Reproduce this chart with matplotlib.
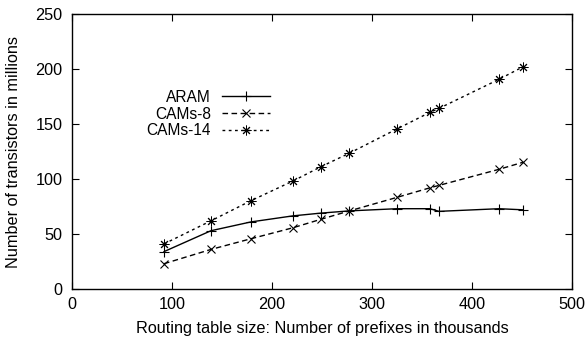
import numpy as np
import matplotlib.pyplot as plt

plt.rcParams['font.family'] = ['Liberation Sans', 'DejaVu Sans']
plt.rcParams['font.size'] = 11.7

# routing table size (thousands of prefixes)
prefixes = [92, 139, 179, 221, 249, 277, 325, 358, 367, 427, 451]

# transistors in millions
aram = [34, 53, 61, 66.5, 69, 71, 73, 73, 70.6, 73, 72]
cams8 = [23, 36, 45.7, 55.7, 63.4, 70.9, 83.3, 92, 94.2, 108.8, 115.2]
cams14 = [41, 62, 80.3, 98.2, 111.2, 123.3, 145.5, 160.6, 164.2, 190.6, 202]

fig = plt.figure(figsize=(5.87, 3.43), dpi=100)
ax = fig.add_axes([0.1227, 0.1574, 0.8517, 0.8018])

ax.plot(prefixes, aram, '-', color='black', lw=1, marker='+', ms=7, mew=0.8, label='ARAM')
ax.plot(prefixes, cams8, color='black', lw=1, ls=(0, (4, 2.5)), marker='x', ms=6, mew=0.8, label='CAMs-8')
ax.plot(prefixes, cams14, color='black', lw=1, ls=(0, (2, 2.5)), marker=(8, 2, 0), ms=7, mew=0.7, label='CAMs-14')

ax.set_xlim(0, 500)
ax.set_ylim(0, 250)
ax.set_xticks(np.arange(0, 501, 100))
ax.set_yticks(np.arange(0, 251, 50))
ax.tick_params(direction='in', length=5, top=True, right=True, width=0.8)
ax.tick_params(axis='x', pad=6)
ax.tick_params(axis='y', pad=7)
for s in ax.spines.values():
    s.set_linewidth(1)

ax.set_xlabel('Routing table size: Number of prefixes in thousands', labelpad=6)
ax.set_ylabel('Number of transistors in millions', labelpad=10)

ax.legend(loc='center right', bbox_to_anchor=(0.396, 0.636), frameon=False, markerfirst=False,
          fontsize=11.2, handlelength=3.1, handletextpad=0.7, labelspacing=0.12,
          borderpad=0, borderaxespad=0)

fig.savefig('out.png')
